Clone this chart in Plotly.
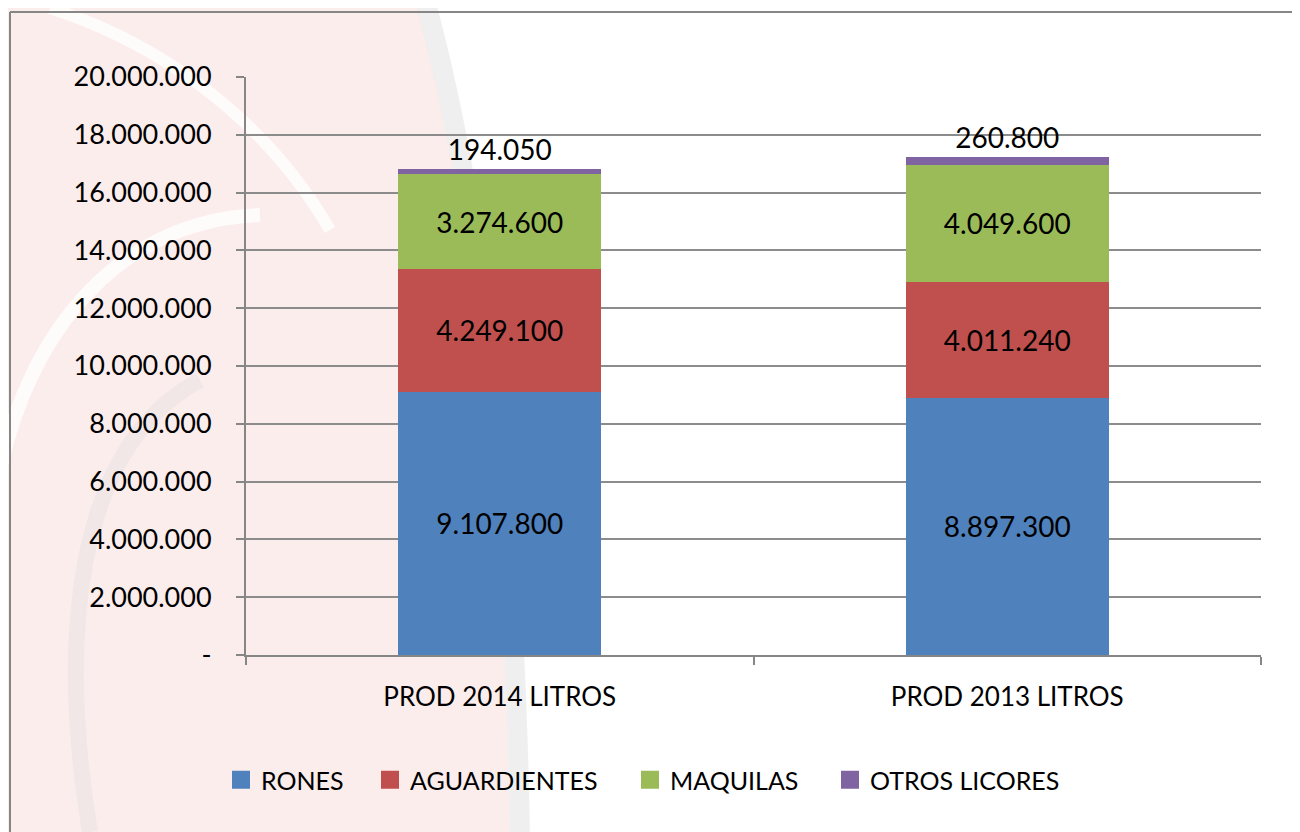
import plotly.graph_objects as go

categories = ["PROD 2014 LITROS", "PROD 2013 LITROS"]
series_names = ["RONES", "AGUARDIENTES", "MAQUILAS", "OTROS LICORES"]
rones = [9107800, 8897300]
aguardientes = [4249100, 4011240]
maquilas = [3274600, 4049600]
otros = [194050, 260800]
colors = ["#4F81BD", "#C0504D", "#9BBB59", "#8064A2"]
tick_vals = [0, 2000000, 4000000, 6000000, 8000000, 10000000, 12000000,
             14000000, 16000000, 18000000, 20000000]
tick_text = ["-", "2.000.000", "4.000.000", "6.000.000", "8.000.000", "10.000.000",
             "12.000.000", "14.000.000", "16.000.000", "18.000.000", "20.000.000"]

FONT = "Lato"
OFF = 8  # page body margin
L, T, PW, PH = 246 - OFF, 77 - OFF, 1015, 578


def px(x):
    return (x - OFF - L) / PW


def py(y):
    return (T + PH - (y - OFF)) / PH


def path(cmds):
    out = []
    for c in cmds:
        if isinstance(c, str):
            out.append(c)
        else:
            out.append(f"{px(c[0]):.5f},{py(c[1]):.5f}")
    return " ".join(out)


fig = go.Figure()
for name, vals, col in zip(series_names, [rones, aguardientes, maquilas, otros], colors):
    fig.add_trace(go.Bar(
        name=name, x=categories, y=vals, marker=dict(color=col, line=dict(width=0)),
        texttemplate="%{y:,.0f}",
        textposition="outside" if name == "OTROS LICORES" else "inside",
        insidetextanchor="middle",
        textfont=dict(family=FONT, size=28, color="black"),
        cliponaxis=False, showlegend=False,
    ))

# legend entries (one legend per series, placed like the original)
text_starts = [261, 410, 670, 870]
layout_legends = {}
for i, (name, col, ts) in enumerate(zip(series_names, colors, text_starts)):
    lg = "legend" if i == 0 else f"legend{i+1}"
    fig.add_trace(go.Scatter(
        x=[None], y=[None], mode="markers", name=name,
        marker=dict(symbol="square", size=16, color=col, line=dict(color=col, width=2)),
        legend=lg, showlegend=True,
    ))
    layout_legends[lg] = dict(
        orientation="h", xref="container", yref="container",
        x=(ts - OFF - 40) / 1300, xanchor="left",
        y=1 - (780 - OFF) / 832, yanchor="middle",
        font=dict(family=FONT, size=25, color="black"),
        bgcolor="rgba(0,0,0,0)", borderwidth=0,
    )

fig.update_layout(
    barmode="stack", bargap=0.6, separators=",.",
    width=1300, height=832,
    margin=dict(l=L, r=1300 - L - PW, t=T, b=832 - T - PH),
    paper_bgcolor="white", plot_bgcolor="rgba(0,0,0,0)",
    font=dict(family=FONT, size=26, color="black"),
    **layout_legends,
)
fig.update_yaxes(range=[0, 20000000], tickvals=tick_vals, ticktext=tick_text,
                 showgrid=True, gridcolor="#8C8C8C", gridwidth=1.5,
                 showline=True, linecolor="#868686", linewidth=2,
                 ticks="outside", ticklen=8, tickcolor="#868686", tickwidth=2,
                 ticklabelstandoff=19, zeroline=False,
                 tickfont=dict(family=FONT, size=27))
fig.update_xaxes(showline=True, linecolor="#868686", linewidth=2,
                 ticks="outside", tickson="boundaries", ticklen=8, tickcolor="#868686",
                 tickwidth=2, ticklabelstandoff=18,
                 tickfont=dict(family=FONT, size=26))

# faint watermark background
fig.add_shape(type="path", xref="paper", yref="paper", layer="below",
              path=path(["M", (0, 0), "L", (415, 0), "C", (470, 200), (505, 500), (510, 840),
                         "L", (0, 840), "Z"]),
              fillcolor="#FCEDED", line=dict(width=0))
fig.add_shape(type="path", xref="paper", yref="paper", layer="below",
              path=path(["M", (425, 0), "C", (480, 200), (515, 500), (520, 840)]),
              line=dict(color="rgba(220,220,220,0.45)", width=20))
fig.add_shape(type="path", xref="paper", yref="paper", layer="below",
              path=path(["M", (50, 8), "C", (150, 40), (260, 110), (330, 230)]),
              line=dict(color="rgba(255,255,255,0.75)", width=12))
fig.add_shape(type="path", xref="paper", yref="paper", layer="below",
              path=path(["M", (0, 470), "C", (30, 330), (120, 220), (260, 215)]),
              line=dict(color="rgba(255,255,255,0.75)", width=14))
fig.add_shape(type="path", xref="paper", yref="paper", layer="below",
              path=path(["M", (90, 832), "C", (60, 650), (70, 450), (200, 380)]),
              line=dict(color="rgba(220,220,220,0.35)", width=16))

# outer chart border
fig.add_shape(type="line", xref="paper", yref="paper", x0=px(10), x1=px(1320), y0=py(12), y1=py(12),
              line=dict(color="#868686", width=2))
fig.add_shape(type="line", xref="paper", yref="paper", x0=px(10), x1=px(10), y0=py(12), y1=py(850),
              line=dict(color="#868686", width=2))
fig.write_html("out.html")
